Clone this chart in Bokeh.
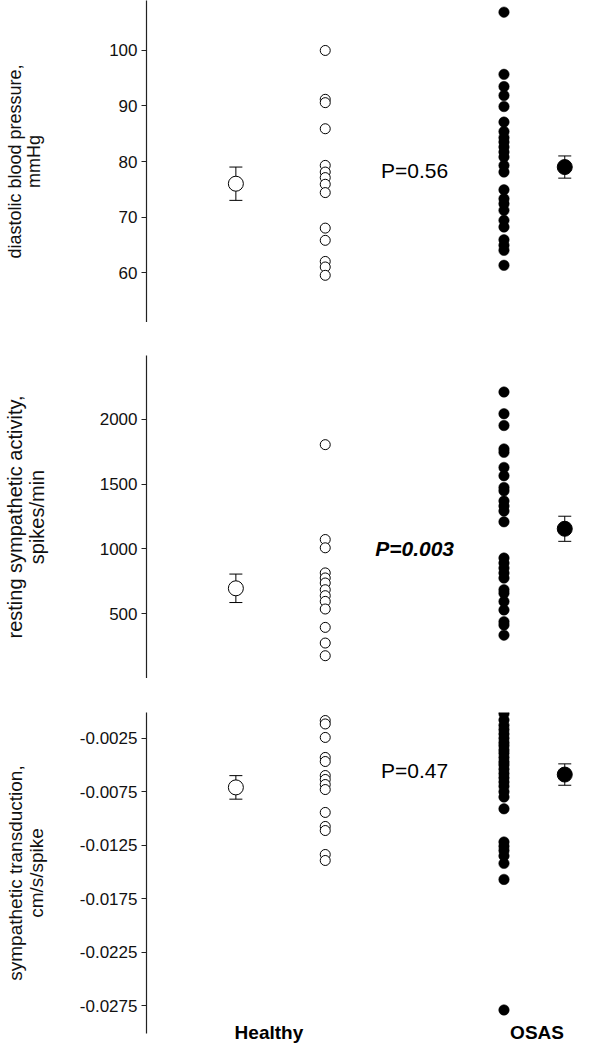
from bokeh.plotting import figure
from bokeh.layouts import column
from bokeh.models import (ColumnDataSource, Whisker, TeeHead, FixedTicker,
                          PrintfTickFormatter, Range1d, Label, LinearAxis)
from bokeh.embed import file_html
from bokeh.resources import INLINE

# ---------------- data ----------------
groups = ["Healthy", "OSAS"]

dbp_healthy = [100.0, 91.2, 90.6, 85.9, 79.3, 78.1, 77.1, 75.9, 74.4, 68.0, 65.8, 62.0, 61.0, 59.5]
dbp_osas = [106.9, 95.7, 93.5, 91.9, 89.9, 87.1, 85.4, 84.3, 83.5, 82.6, 81.7, 80.8, 79.3, 78.1,
            74.9, 73.3, 72.4, 71.2, 69.4, 68.2, 65.9, 64.9, 64.0, 61.3]
dbp_mean = [76.0, 79.0]
dbp_se = [3.0, 2.0]
dbp_p = "P=0.56"
dbp_label = ["diastolic blood pressure,", "mmHg"]

msna_healthy = [1805, 1072, 1008, 814, 775, 736, 684, 638, 594, 535, 393, 272, 174]
msna_osas = [2212, 2044, 1953, 1772, 1746, 1629, 1565, 1474, 1448, 1370, 1331, 1292, 1209,
             929, 890, 851, 813, 774, 684, 657, 593, 528, 437, 411, 333]
msna_mean = [695, 1155]
msna_se = [110, 97]
msna_p = "P=0.003"
msna_label = ["resting sympathetic activity,", "spikes/min"]

st_healthy = [-0.00085, -0.00117, -0.00243, -0.0043, -0.00468, -0.00599, -0.00636, -0.00683,
              -0.0073, -0.00944, -0.01075, -0.01113, -0.01337, -0.01393]
st_osas = [-0.0002, -0.0008, -0.0013, -0.0017, -0.0021, -0.0025, -0.0029, -0.0032, -0.0036,
           -0.0039, -0.0043, -0.0047, -0.0050, -0.0054, -0.0058, -0.0062, -0.0066, -0.0070,
           -0.0075, -0.0080, -0.0091, -0.0122, -0.0126, -0.0130, -0.0135, -0.0142, -0.0157,
           -0.0279]
st_mean = [-0.0071, -0.0059]
st_se = [0.0011, 0.0010]
st_p = "P=0.47"
st_label = ["sympathetic transduction,", "cm/s/spike"]

dbp_ticks = [60, 70, 80, 90, 100]
msna_ticks = [500, 1000, 1500, 2000]
st_ticks = [-0.0025, -0.0075, -0.0125, -0.0175, -0.0225, -0.0275]

# ---------------- layout / style ----------------
FONT = "Liberation Sans"
X_RANGE = (-1.0, 4.08)
X_DOTS = [1.0, 3.0]       # scatter columns
X_MEAN = [0.0, 3.68]      # mean +/- SE markers
X_P = 2.0
X_GROUP_LABEL = [0.37, 3.37]
WIDTH = 600
LEFT = 145
AXIS_COLOR = "#222222"
TEXT_COLOR = "#111111"


def make_panel(healthy, osas, mean, se, ptxt, pstyle, ylabel, yr, ticks, fmt,
               label_standoff, top, frame_h, bottom, p_y, label_size):
    p = figure(width=WIDTH, height=top + frame_h + bottom,
               x_range=Range1d(*X_RANGE), y_range=Range1d(*yr),
               output_backend="svg", toolbar_location=None,
               min_border_left=LEFT, min_border_right=0,
               min_border_top=top, min_border_bottom=bottom,
               x_axis_location=None)
    p.grid.visible = False
    p.outline_line_color = None

    ax = p.yaxis[0]
    ax.ticker = FixedTicker(ticks=ticks)
    if fmt:
        ax.formatter = PrintfTickFormatter(format=fmt)
    ax.axis_line_color = AXIS_COLOR
    ax.axis_line_width = 1.2
    ax.major_tick_line_color = AXIS_COLOR
    ax.major_tick_in = 0
    ax.major_tick_out = 5
    ax.minor_tick_line_color = None
    ax.major_label_text_font = FONT
    ax.major_label_text_font_size = "17px"
    ax.major_label_text_color = TEXT_COLOR
    ax.major_label_standoff = 4
    # second line of the title sits next to the tick labels
    ax.axis_label = ylabel[1]
    ax.axis_label_text_font = FONT
    ax.axis_label_text_font_size = label_size
    ax.axis_label_text_font_style = "normal"
    ax.axis_label_text_color = TEXT_COLOR
    ax.axis_label_standoff = label_standoff

    # first line of the title on an empty outer axis
    outer = LinearAxis(ticker=FixedTicker(ticks=[]), axis_label=ylabel[0])
    outer.axis_line_color = None
    outer.major_tick_line_color = None
    outer.minor_tick_line_color = None
    outer.major_tick_in = 0
    outer.major_tick_out = 0
    outer.major_label_standoff = 0
    outer.axis_label_text_font = FONT
    outer.axis_label_text_font_size = label_size
    outer.axis_label_text_font_style = "normal"
    outer.axis_label_text_color = TEXT_COLOR
    outer.axis_label_standoff = -3
    p.add_layout(outer, "left")

    # mean +/- SE
    msrc = ColumnDataSource(dict(x=X_MEAN, m=mean,
                                 lo=[m - s for m, s in zip(mean, se)],
                                 hi=[m + s for m, s in zip(mean, se)],
                                 fill=["white", "black"]))
    w = Whisker(base="x", lower="lo", upper="hi", source=msrc, dimension="height",
                line_color="black", line_width=1,
                upper_head=TeeHead(size=13, line_color="black", line_width=1),
                lower_head=TeeHead(size=13, line_color="black", line_width=1),
                level="underlay")
    p.add_layout(w)
    p.scatter("x", "m", source=msrc, size=15, fill_color="fill",
              line_color="black", line_width=1)

    # individual points
    p.scatter([X_DOTS[0]] * len(healthy), healthy, size=10, fill_color="white",
              line_color="black", line_width=1)
    p.scatter([X_DOTS[1]] * len(osas), osas, size=10.5, fill_color="black",
              line_color="black", line_width=0.5)

    lab = Label(x=X_P, y=p_y, text=ptxt, text_font=FONT, text_font_size="21px",
                text_font_style=pstyle, text_align="center",
                text_baseline="middle", text_color="black")
    p.add_layout(lab)
    return p


p1 = make_panel(dbp_healthy, dbp_osas, dbp_mean, dbp_se, dbp_p, "normal",
                dbp_label, (51.0, 109.0), dbp_ticks, None,
                62, 0, 322, 0, 78.4, "18px")
p2 = make_panel(msna_healthy, msna_osas, msna_mean, msna_se, msna_p, "bold italic",
                msna_label, (-2, 2494), msna_ticks, None,
                49, 33, 323, 0, 1000, "20px")
p3 = make_panel(st_healthy, st_osas, st_mean, st_se, st_p, "normal",
                st_label, (-0.0301, -0.0001), st_ticks, "%.4f",
                30, 34, 321, 15, -0.0055, "19px")

# group labels as x axis of the bottom panel
xa = LinearAxis(ticker=FixedTicker(ticks=X_GROUP_LABEL),
                major_label_overrides={X_GROUP_LABEL[i]: groups[i] for i in range(2)})
xa.axis_line_color = None
xa.major_tick_line_color = None
xa.minor_tick_line_color = None
xa.major_tick_in = 0
xa.major_tick_out = 0
xa.major_label_standoff = -12
xa.major_label_text_font = FONT
xa.major_label_text_font_size = "19px"
xa.major_label_text_font_style = "bold"
xa.major_label_text_color = "black"
p3.add_layout(xa, "below")

layout = column(p1, p2, p3, spacing=0)
open("out.html", "w").write(file_html(layout, INLINE))
